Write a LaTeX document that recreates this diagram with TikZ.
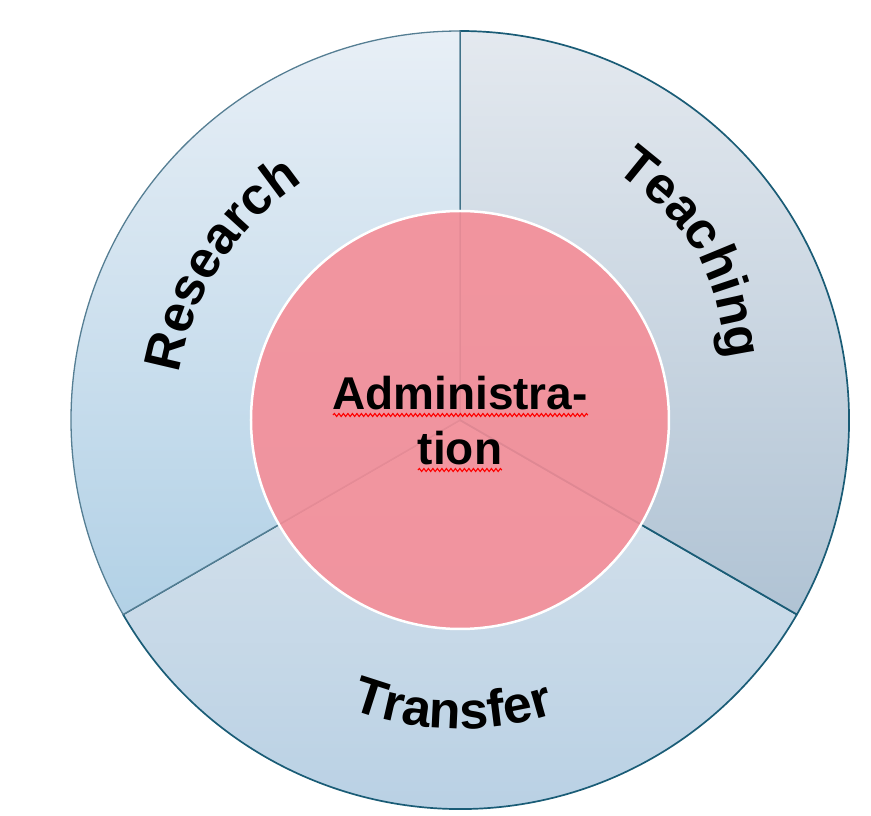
\documentclass[tikz,border=0pt]{standalone}
\usepackage{fontspec}
\setmainfont{Liberation Sans}
\usetikzlibrary{decorations.text,decorations.pathmorphing}
\definecolor{edgedark}{HTML}{1A5C76}
\definecolor{edgelight}{HTML}{557E93}
\definecolor{reTop}{HTML}{E8EFF6}
\definecolor{reBot}{HTML}{B2D1E6}
\definecolor{teTop}{HTML}{E4E9EF}
\definecolor{teBot}{HTML}{B0C3D4}
\definecolor{trTop}{HTML}{D8E3EC}
\definecolor{trBot}{HTML}{B5CEE3}
\definecolor{pinkfill}{HTML}{F58D97}
\newcommand\arcfont{\fontsize{52}{60}\selectfont\bfseries}
\tikzset{
  sector/.style={line width=1.7pt, line join=round},
  arclabel/.style={decorate, decoration={text along path, text={|\arcfont|#1}, text align=center}},
  squiggle/.style={draw=red, line width=1.1pt, decorate, decoration={snake, segment length=4.5pt, amplitude=1.5pt}}
}
\begin{document}
\begin{tikzpicture}[x=1pt,y=1pt]
\useasboundingbox (-460,-396) rectangle (411,420);
\coordinate (O) at (0,0);
% sectors
\path[sector, top color=trTop, bottom color=trBot, draw=edgedark]
  (O) -- (210:389pt) arc[start angle=210, end angle=330, radius=389pt] -- cycle;
\path[sector, top color=teTop, bottom color=teBot, draw=edgedark]
  (O) -- (-30:389pt) arc[start angle=-30, end angle=90, radius=389pt] -- cycle;
\path[sector, line width=1.3pt, top color=reTop, bottom color=reBot, draw=edgelight]
  (O) -- (90:389pt) arc[start angle=90, end angle=210, radius=389pt] -- cycle;
% core
\node[circle, minimum size=418pt, inner sep=0pt, fill=pinkfill, fill opacity=0.9,
      draw=white, line width=2.5pt] (core) at (O) {};
\node[font=\fontsize{46}{55}\selectfont\bfseries, align=center, inner sep=0pt] (admin) at (0,-1) {Administra-\\tion};
\draw[squiggle] (-127,5) -- (128,5);
\draw[squiggle] (-42,-50) -- (42,-50);
% arc labels
\path[arclabel=Research] (200:285pt) arc[start angle=200, end angle=94, radius=285pt];
\path[decorate, decoration={text along path, text={|\arcfont|Teaching}, text align=left}]
  plot[smooth] coordinates {(58:294pt) (45:292pt) (35:290pt) (27:284pt) (20:278pt) (12:274pt) (4:272pt) (-4:271pt)};
\path[arclabel=Transfer] (228.5:309pt) arc[start angle=228.5, end angle=308.5, radius=309pt];
\end{tikzpicture}
\end{document}
